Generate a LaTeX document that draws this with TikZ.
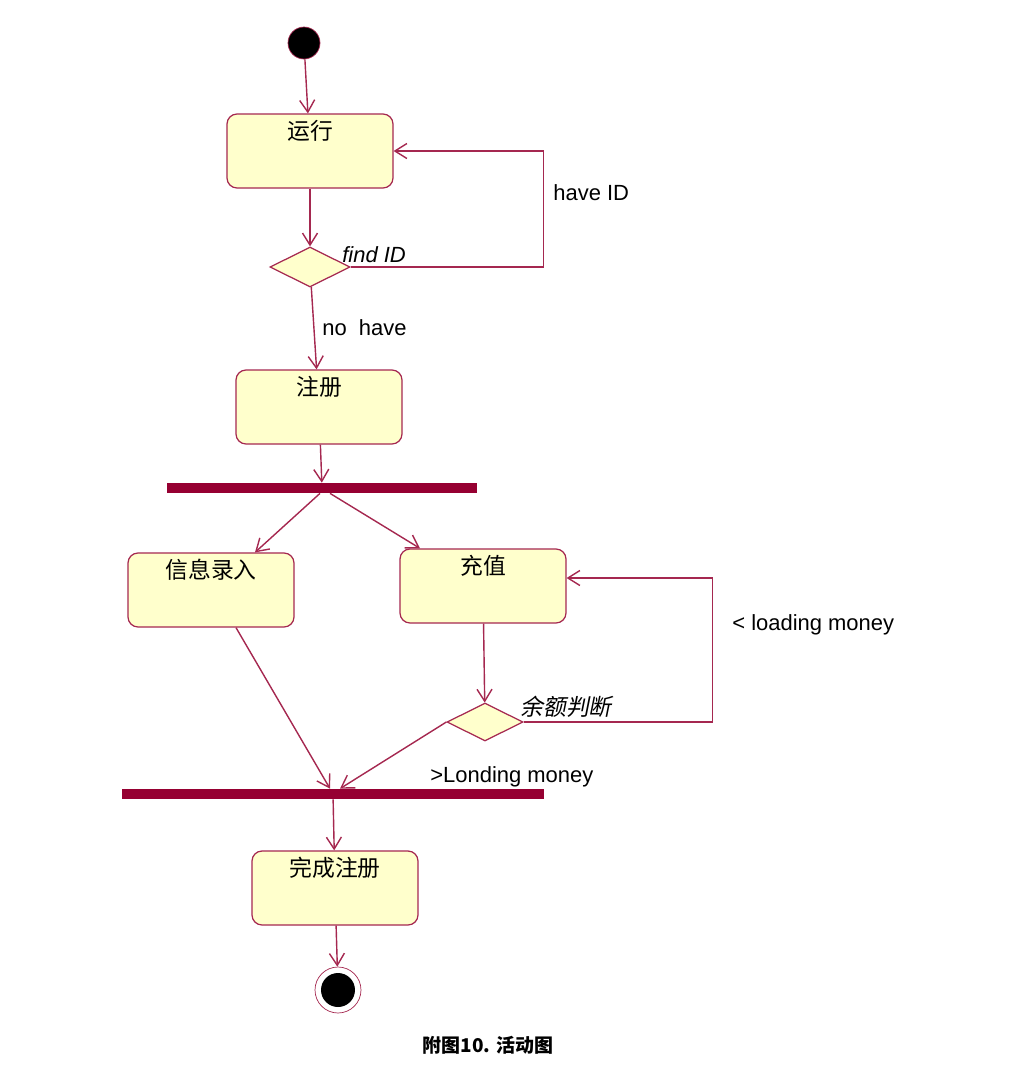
\documentclass[tikz,border=0pt]{standalone}
\usepackage{fontspec}
\setmainfont{Liberation Sans}
\newfontfamily\cjk{Noto Sans CJK SC}
\newfontfamily\cjkslant[FakeSlant=0.2]{Noto Sans CJK SC}
\usetikzlibrary{shapes.geometric,arrows.meta}
\definecolor{linered}{RGB}{165,40,80}
\definecolor{barred}{RGB}{150,0,50}
\definecolor{actfill}{RGB}{255,255,204}

\begin{document}
\begin{tikzpicture}[x=0.02cm,y=-0.02cm,
    activity/.style={draw=linered, fill=actfill, rounded corners=0.2cm, line width=0.7pt,
      minimum width=3.32cm, inner xsep=0pt, inner ysep=0pt,
      text height=0.5cm, text depth=0.98cm, font=\cjk\fontsize{13}{15}\selectfont},
    choice/.style={diamond, draw=linered, fill=actfill, line width=0.7pt,
      minimum width=1.6cm, minimum height=0.8cm, inner sep=0pt},
    sync/.style={fill=barred, minimum height=0.2cm, inner sep=0pt},
    flow/.style={draw=linered, line width=0.8pt, -{Straight Barb[length=0.24cm,width=0.3cm]}},
    guard/.style={anchor=west, inner sep=0pt, font=\fontsize{12.5}{14}\selectfont}]
    \useasboundingbox (0,0) rectangle (1010,1083);

    \node[circle, fill=black, draw=linered, minimum size=0.64cm, inner sep=0pt] (start) at (304,43) {};
    \node[activity] (run) at (310,151) {运行};
    \node[choice] (findid) at (310,267) {};
    \node[activity] (reg) at (319,407) {注册};
    \node[sync, minimum width=6.22cm] (fork) at (322,488) {};
    \node[activity] (info) at (211,590) {信息录入};
    \node[activity] (charge) at (483,586) {充值};
    \node[choice, minimum width=1.52cm, minimum height=0.76cm] (check) at (485,722) {};
    \node[sync, minimum width=8.44cm] (join) at (333,794) {};
    \node[activity] (done) at (335,888) {完成注册};
    \node[circle, draw=linered, fill=white, minimum size=0.92cm, inner sep=0pt,
      path picture={\fill[black] (path picture bounding box.center) circle (0.34cm);}] (stop) at (338,990) {};

    \node[guard] (haveid) at (553,193) {have ID};
    \node[guard] (findlbl) at (342,255) {\textit{find ID}};
    \node[guard] (nohave) at (322,328) {no\ \ have};
    \node[guard] (lessmoney) at (732,625) {< loading money};
    \node[guard] (moremoney) at (430,777) {>Londing money};
    \node[guard, font=\cjkslant\fontsize{13}{15}\selectfont] (balance) at (520,707) {余额判断};
    \node[font=\cjk\bfseries\fontsize{10.8}{12}\selectfont] (caption) at (488,1045) {附图10. 活动图};

    \draw[flow] (start) -- (run);
    \draw[flow] (run) -- (findid);
    \draw[flow] (findid.east) -| ([xshift=3cm]run.east) -- (run.east);
    \draw[flow] (findid) -- (reg);
    \draw[flow] (reg) -- (fork);
    \draw[flow] ([xshift=-0.04cm]fork.south) -- ([xshift=0.88cm]info.north);
    \draw[flow] ([xshift=0.16cm]fork.south) -- ([xshift=-1.26cm]charge.north);
    \draw[flow] (charge) -- (check);
    \draw[flow] (check.east) -| ([xshift=2.92cm,yshift=0.16cm]charge.east) -- ([yshift=0.16cm]charge.east);
    \draw[flow] (check.west) -- ([xshift=0.14cm]join.north);
    \draw[flow] ([xshift=0.5cm]info.south) -- ([xshift=-0.06cm]join.north);
    \draw[flow] (join) -- (done);
    \draw[flow] (done) -- (stop);
\end{tikzpicture}
\end{document}
